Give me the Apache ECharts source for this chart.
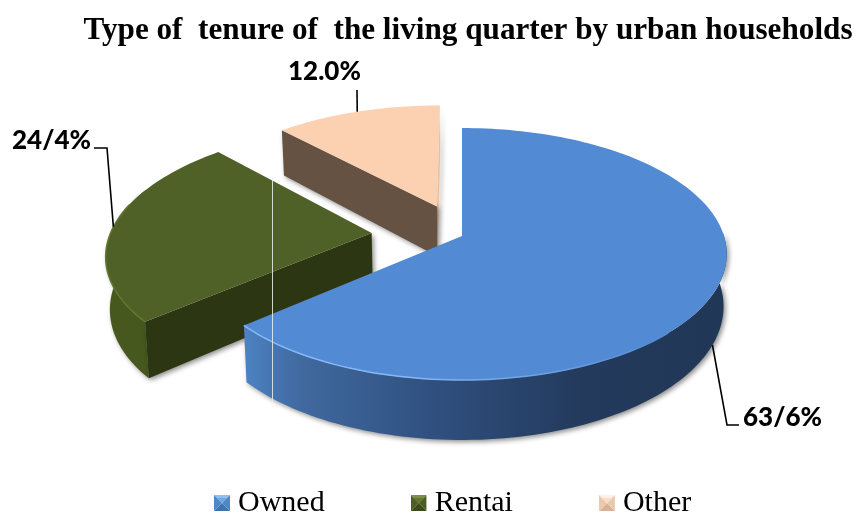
<!DOCTYPE html>
<html>
<head>
<meta charset="utf-8">
<style>html,body{margin:0;padding:0;background:#fff}#c{width:858px;height:517px}</style>
<script src="https://cdn.jsdelivr.net/npm/echarts@6/dist/echarts.min.js"></script>
</head>
<body>
<div id="c"></div>
<script>
const categories = ['Owned', 'Rentai', 'Other'];
const values = [63.6, 24.4, 12.0];
const valueLabels = ['63/6%', '24/4%', '12.0%'];
const titleText = 'Type of  tenure of  the living quarter by urban households';

// Appearance per slice
const topColors = ['#528AD3', '#4F6126', '#FBD1B2'];
const cutColors = [null, '#2D3613', '#655243'];
const endColors = [null, null, '#E8BE9C'];
const rimColors = ['#86B8F5', '#61762F', '#FBD1B2'];
const wallFills = [
  new echarts.graphic.LinearGradient(0, 0, 1, 0, [
    { offset: 0, color: '#4D82C2' }, { offset: 0.12, color: '#40699F' },
    { offset: 0.4, color: '#2F4F7E' }, { offset: 0.7, color: '#233A5C' }, { offset: 1, color: '#213757' }
  ]),
  '#47581F', null
];
// Visible stretch of each outer wall, in degrees clockwise from 12 o'clock
const wallRanges = [[88, 228.96], [228.96, 292], null];
const shadow = { shadowBlur: 5, shadowColor: 'rgba(0,0,0,0.45)', shadowOffsetX: 2, shadowOffsetY: 2 };
const legendShades = [
  ['#8CC0F5', '#6FA6E6', '#3F73B0', '#4F86C6'],
  ['#7B9040', '#62772E', '#3A4A18', '#4C5E24'],
  ['#FFF0E2', '#FBDCC4', '#D9B397', '#EBC9AE']
];
function bevelIcon(s) {
  const svg = '<svg xmlns="http://www.w3.org/2000/svg" width="16" height="16">' +
    '<polygon points="0,0 16,0 8,8" fill="' + s[0] + '"/>' +
    '<polygon points="0,16 16,16 8,8" fill="' + s[2] + '"/>' +
    '<polygon points="0,0 0,16 8,8" fill="' + s[3] + '"/>' +
    '<polygon points="16,0 16,16 8,8" fill="' + s[3] + '"/>' +
    '<polygon points="3,3 13,3 8,8" fill="' + s[1] + '"/></svg>';
  return 'image://data:image/svg+xml;charset=utf-8,' + encodeURIComponent(svg);
}

// Perspective projection of the pie disc onto the page
const view = { ox: 462, oy: 236, rx: 262, ry: 123.4, k: 0.143, depth: 51.4, shrink: 1.012 };
const explode = [[0, 0], [-0.346, -0.024], [-0.099, -0.247]];
const callouts = [
  { pts: [[727, 425], [739, 425]], tx: 743, ty: 418, onWall: true },
  { pts: [[107, 148], [94, 148]], tx: 12, ty: 141, onWall: false },
  { pts: [[357, 90]], tx: 288, ty: 72, onWall: false }
];

const total = values.reduce((a, b) => a + b, 0);
const FONT_LABEL = '900 26px Lato, "Open Sans", sans-serif';

function project(angle, idx, radial) {
  const [p, q] = explode[idx];
  const a = angle * Math.PI / 180;
  const u = radial * Math.sin(a) + p;
  const v = -radial * Math.cos(a) + q;
  const w = 1 - view.k * v;
  return { x: view.ox + view.rx * u / w, y: view.oy + view.ry * v / w, w };
}
function lower(pt) {
  return { x: view.ox + (pt.x - view.ox) / view.shrink, y: pt.y + view.depth / pt.w };
}
function arc(a0, a1, idx) {
  const n = Math.max(2, Math.ceil(Math.abs(a1 - a0) / 1.5));
  const out = [];
  for (let i = 0; i <= n; i++) out.push(project(a0 + (a1 - a0) * i / n, idx, 1));
  return out;
}
const xy = p => [p.x, p.y];

function sliceRenderer(idx) {
  return function (params, api) {
    const val = api.value(0);
    let before = 0;
    for (let i = 0; i < idx; i++) before += values[i];
    const a0 = before / total * 360;
    const a1 = a0 + val / total * 360;
    const apex = project(0, idx, 0);
    const rim = arc(a0, a1, idx);
    const children = [];
    // outer wall (front part only)
    if (wallRanges[idx]) {
      const wall = arc(wallRanges[idx][0], wallRanges[idx][1], idx);
      children.push({
        type: 'polygon',
        shape: { points: wall.map(xy).concat(wall.map(lower).reverse().map(xy)) },
        style: Object.assign({ fill: wallFills[idx] }, shadow)
      });
    }
    // visible cut faces
    [[rim[rim.length - 1], endColors[idx]], [rim[0], cutColors[idx]]].forEach(([edge, fill]) => {
      if (!fill) return;
      children.push({
        type: 'polygon',
        shape: { points: [xy(apex), xy(edge), xy(lower(edge)), xy(lower(apex))] },
        style: Object.assign({ fill }, shadow)
      });
    });
    // top face
    children.push({
      type: 'polygon',
      shape: { points: [xy(apex)].concat(rim.map(xy)) },
      style: { fill: topColors[idx] }
    });
    // highlight along the front rim
    if (idx < 2) {
      const front = idx === 0 ? arc(135, a1, idx) : arc(a0, a0 + 55, idx);
      children.push({
        type: 'polyline',
        shape: { points: front.map(xy) },
        style: {
          fill: 'none', lineWidth: 1.5,
          stroke: new echarts.graphic.LinearGradient(0, 0, 1, 0,
            idx === 0
              ? [{ offset: 0, color: rimColors[0] }, { offset: 0.4, color: rimColors[0] }, { offset: 1, color: topColors[0] }]
              : [{ offset: 0, color: rimColors[1] }, { offset: 1, color: rimColors[1] }])
        }
      });
    }
    // callout
    const c = callouts[idx];
    const mid = project((a0 + a1) / 2, idx, 1);
    const anchor = c.onWall ? lower(mid) : mid;
    children.push({
      type: 'polyline',
      shape: { points: [xy(anchor)].concat(c.pts) },
      style: { fill: 'none', stroke: '#000', lineWidth: 1.6 }
    });
    children.push({
      type: 'text',
      style: { text: valueLabels[idx], x: c.tx, y: c.ty, font: FONT_LABEL, fill: '#000', verticalAlign: 'middle', align: 'left' }
    });
    return { type: 'group', children };
  };
}

const chart = echarts.init(document.getElementById('c'), null, { renderer: 'canvas' });
chart.setOption({
  animation: false,
  backgroundColor: '#fff',
  title: {
    text: titleText, left: 463, top: 10, textAlign: 'center',
    textStyle: { fontFamily: '"Liberation Serif"', fontWeight: 'bold', fontSize: 31.2, color: '#000' }
  },
  legend: {
    left: 209, top: 483, itemGap: 86, itemWidth: 16, itemHeight: 16,
    textStyle: { fontFamily: '"Liberation Serif"', fontSize: 30, color: '#000', padding: [0, 0, 0, 3] },
    data: categories.map((name, i) => ({ name, icon: bevelIcon(legendShades[i]) }))
  },
  series: categories.map((name, i) => ({
    type: 'custom',
    name,
    coordinateSystem: 'none',
    silent: true,
    z: 2 + (categories.length - i),
    itemStyle: { color: topColors[i] },
    renderItem: sliceRenderer(i),
    data: [[values[i]]]
  })),
  graphic: [{
    type: 'line', z: 100, silent: true,
    shape: { x1: 272.5, y1: 178, x2: 272.5, y2: 402 },
    style: { stroke: 'rgba(235,240,235,0.85)', lineWidth: 1 }
  }]
});
</script>
</body>
</html>
